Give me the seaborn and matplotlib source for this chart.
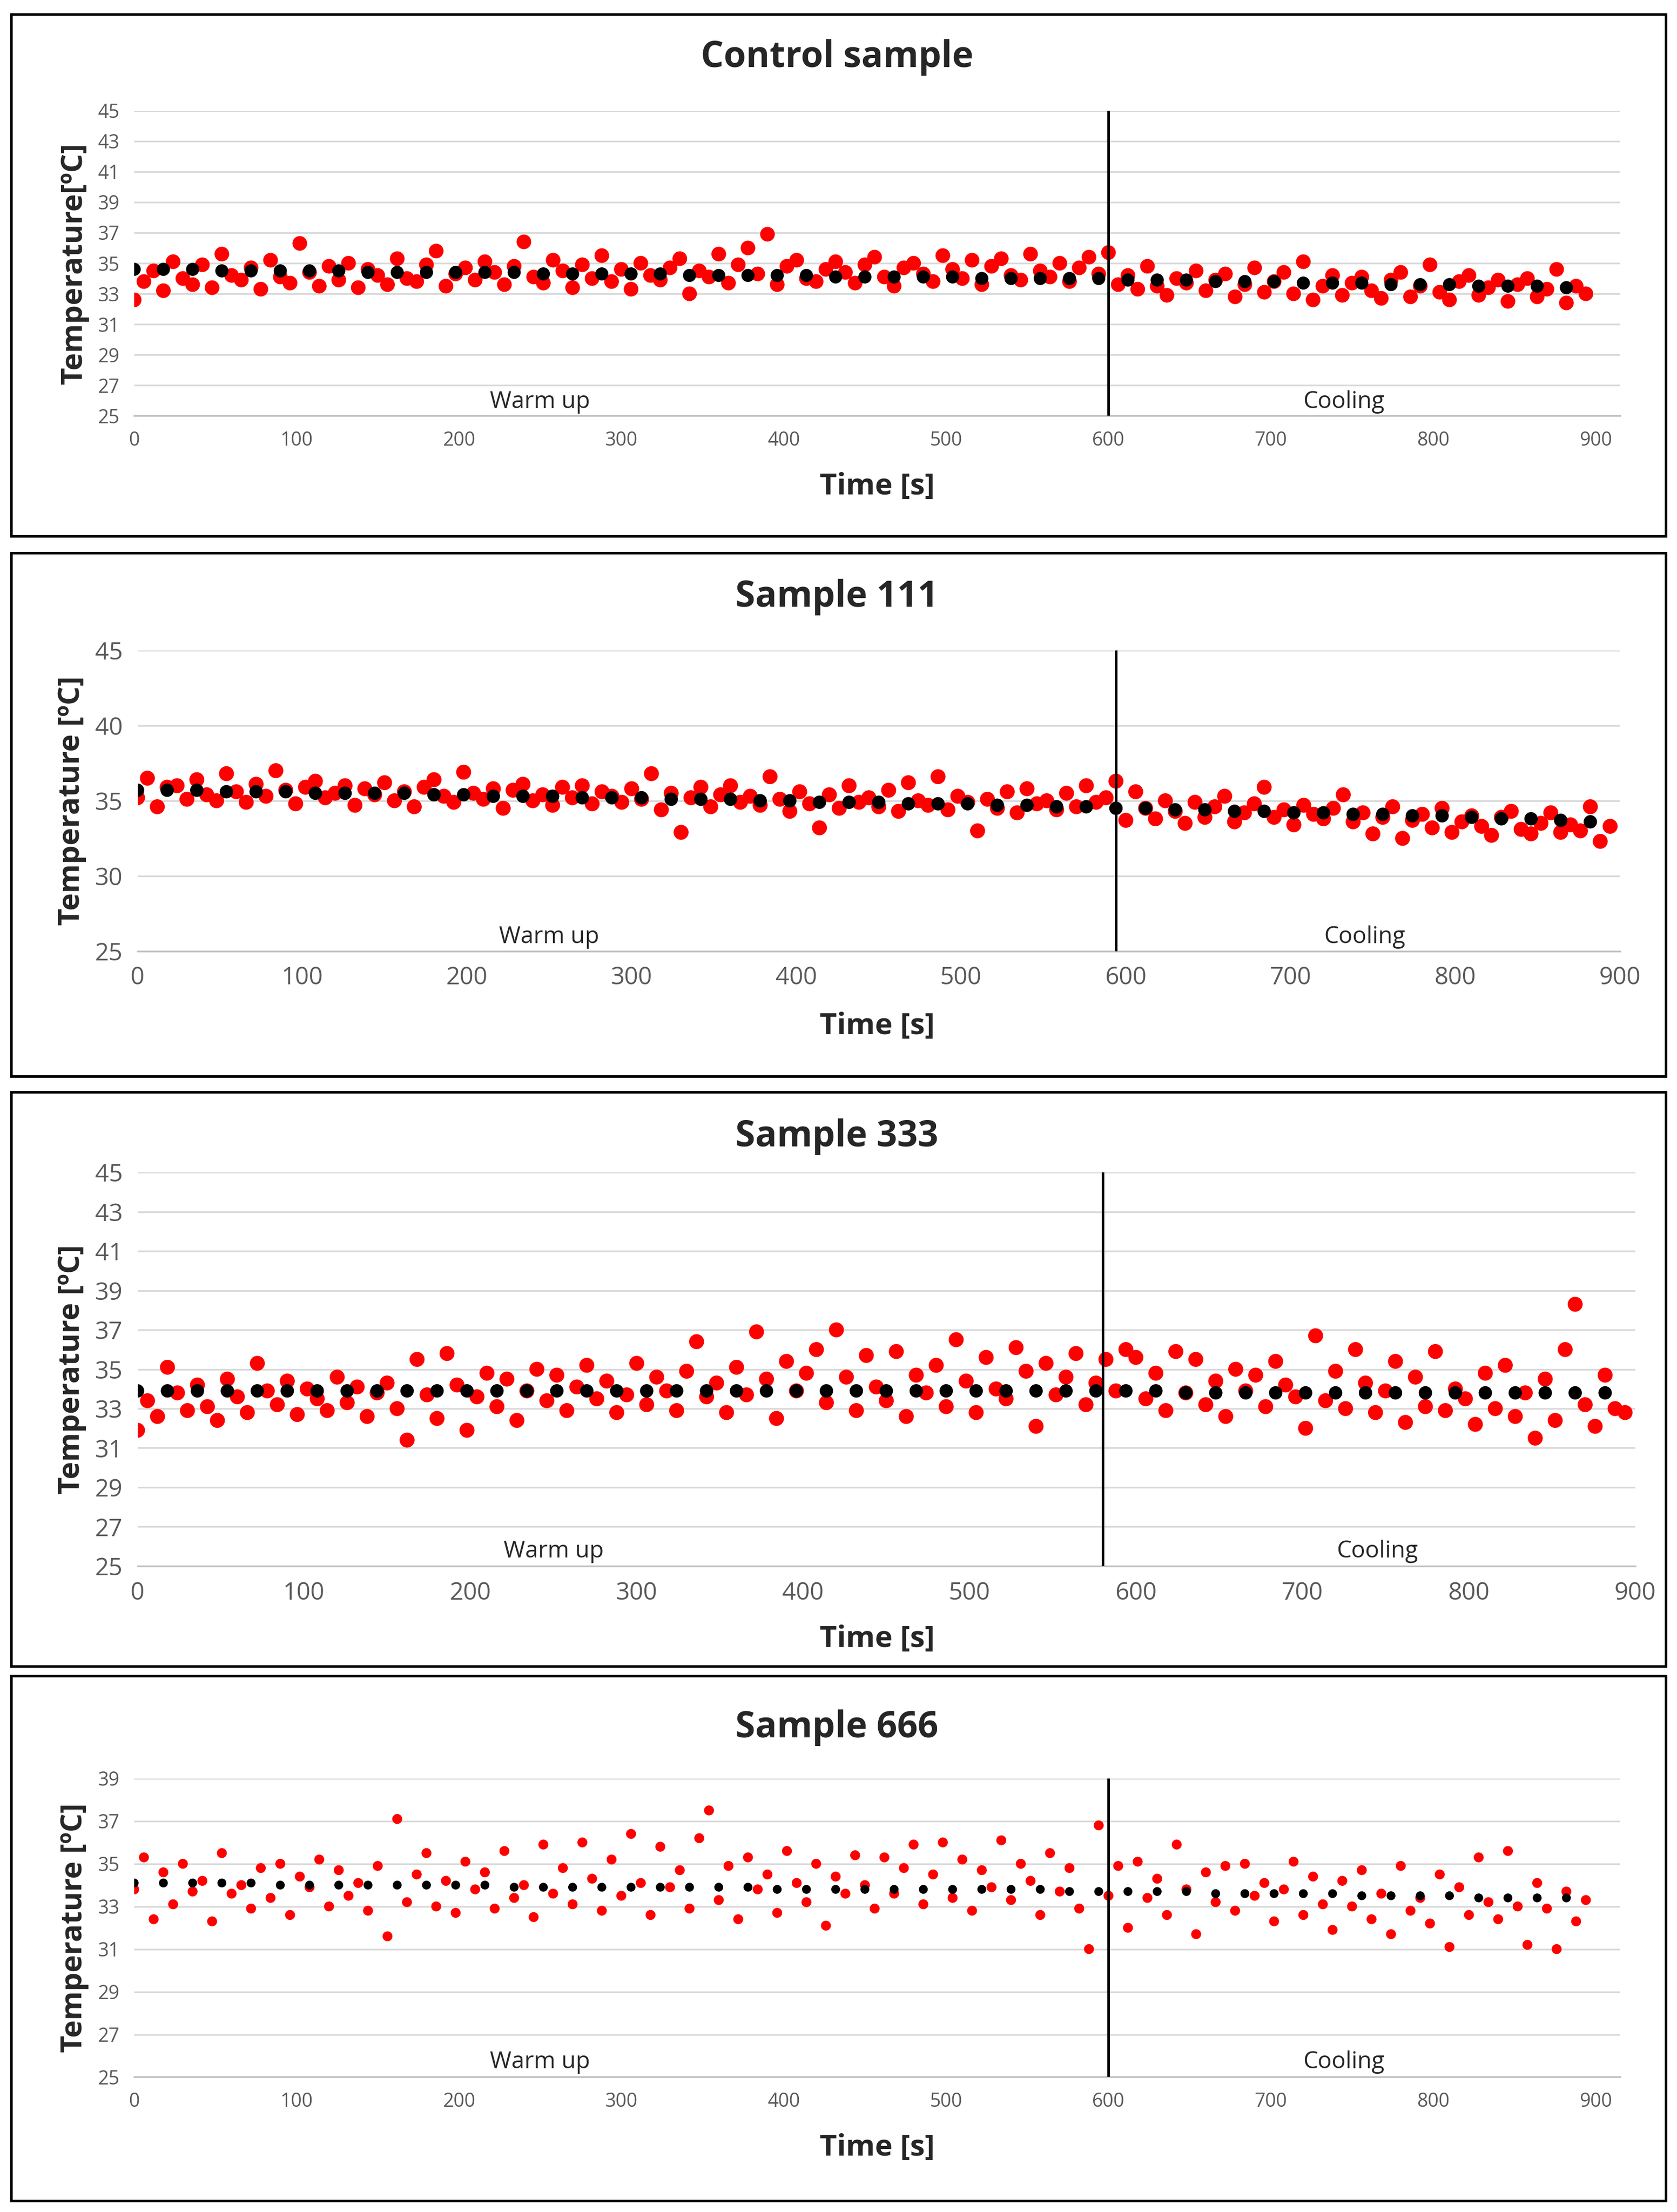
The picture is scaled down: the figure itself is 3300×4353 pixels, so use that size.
import numpy as np
import pandas as pd
import matplotlib
matplotlib.use("Agg")
import matplotlib.pyplot as plt
from matplotlib.patches import Rectangle
import seaborn as sns

# ---- data (every 6 s for red points, 18 s for black trend) ----
control_temp = [32.6,33.8,34.5,33.2,35.1,34.0,33.6,34.9,33.4,35.6,34.2,33.9,34.7,33.3,35.2,34.1,33.7,36.3,34.4,33.5,34.8,33.9,35.0,33.4,34.6,
    34.2,33.6,35.3,34.0,33.8,34.9,35.8,33.5,34.3,34.7,33.9,35.1,34.4,33.6,34.8,36.4,34.1,33.7,35.2,34.5,33.4,34.9,34.0,35.5,33.8,
    34.6,33.3,35.0,34.2,33.9,34.7,35.3,33.0,34.5,34.1,35.6,33.7,34.9,36.0,34.3,36.9,33.6,34.8,35.2,34.0,33.8,34.6,35.1,34.4,33.7,
    34.9,35.4,34.1,33.5,34.7,35.0,34.3,33.8,35.5,34.6,34.0,35.2,33.6,34.8,35.3,34.2,33.9,35.6,34.5,34.1,35.0,33.8,34.7,35.4,34.3,
    35.7,33.6,34.2,33.3,34.8,33.5,32.9,34.0,33.7,34.5,33.2,33.9,34.3,32.8,33.6,34.7,33.1,33.8,34.4,33.0,35.1,32.6,33.5,34.2,32.9,
    33.7,34.1,33.2,32.7,33.9,34.4,32.8,33.5,34.9,33.1,32.6,33.8,34.2,32.9,33.4,33.9,32.5,33.6,34.0,32.8,33.3,34.6,32.4,33.5,33.0]
s111_temp = [35.2,36.5,34.6,35.9,36.0,35.1,36.4,35.4,35.0,36.8,35.6,34.9,36.1,35.3,37.0,35.7,34.8,35.9,36.3,35.2,35.5,36.0,34.7,35.8,35.4,
    36.2,35.0,35.6,34.6,35.9,36.4,35.3,34.9,36.9,35.5,35.1,35.8,34.5,35.7,36.1,35.0,35.4,34.7,35.9,35.2,36.0,34.8,35.6,35.3,34.9,
    35.8,35.1,36.8,34.4,35.5,32.9,35.2,35.9,34.6,35.4,36.0,34.9,35.3,34.7,36.6,35.1,34.3,35.6,34.8,33.2,35.4,34.5,36.0,34.9,35.2,
    34.6,35.7,34.3,36.2,35.0,34.7,36.6,34.4,35.3,34.9,33.0,35.1,34.5,35.6,34.2,35.8,34.8,35.0,34.4,35.5,34.6,36.0,34.9,35.2,36.3,
    33.7,35.6,34.5,33.8,35.0,34.3,33.5,34.9,33.9,34.6,35.3,33.6,34.2,34.8,35.9,33.9,34.4,33.4,34.7,34.1,33.8,34.5,35.4,33.6,34.2,
    32.8,33.9,34.6,32.5,33.7,34.1,33.2,34.5,32.9,33.6,34.0,33.3,32.7,33.9,34.3,33.1,32.8,33.5,34.2,32.9,33.4,33.0,34.6,32.3,33.3]
s333_temp = [31.9,33.4,32.6,35.1,33.8,32.9,34.2,33.1,32.4,34.5,33.6,32.8,35.3,33.9,33.2,34.4,32.7,34.0,33.5,32.9,34.6,33.3,34.1,32.6,33.8,
    34.3,33.0,31.4,35.5,33.7,32.5,35.8,34.2,31.9,33.6,34.8,33.1,34.5,32.4,33.9,35.0,33.4,34.7,32.9,34.1,35.2,33.5,34.4,32.8,33.7,
    35.3,33.2,34.6,33.9,32.9,34.9,36.4,33.6,34.3,32.8,35.1,33.7,36.9,34.5,32.5,35.4,33.9,34.8,36.0,33.3,37.0,34.6,32.9,35.7,34.1,
    33.4,35.9,32.6,34.7,33.8,35.2,33.1,36.5,34.4,32.8,35.6,34.0,33.5,36.1,34.9,32.1,35.3,33.7,34.6,35.8,33.2,34.3,35.5,33.9,36.0,
    35.6,33.5,34.8,32.9,35.9,33.8,35.5,33.2,34.4,32.6,35.0,33.9,34.7,33.1,35.4,34.2,33.6,32.0,36.7,33.4,34.9,33.0,36.0,34.3,32.8,
    33.9,35.4,32.3,34.6,33.1,35.9,32.9,34.0,33.5,32.2,34.8,33.0,35.2,32.6,33.8,31.5,34.5,32.4,36.0,38.3,33.2,32.1,34.7,33.0,32.8]
s666_temp = [33.8,35.3,32.4,34.6,33.1,35.0,33.7,34.2,32.3,35.5,33.6,34.0,32.9,34.8,33.4,35.0,32.6,34.4,33.9,35.2,33.0,34.7,33.5,34.1,32.8,
    34.9,31.6,37.1,33.2,34.5,35.5,33.0,34.2,32.7,35.1,33.8,34.6,32.9,35.6,33.4,34.0,32.5,35.9,33.6,34.8,33.1,36.0,34.3,32.8,35.2,
    33.5,36.4,34.1,32.6,35.8,33.9,34.7,32.9,36.2,37.5,33.3,34.9,32.4,35.3,33.8,34.5,32.7,35.6,34.1,33.2,35.0,32.1,34.4,33.6,35.4,
    34.0,32.9,35.3,33.6,34.8,35.9,33.1,34.5,36.0,33.4,35.2,32.8,34.7,33.9,36.1,33.3,35.0,34.2,32.6,35.5,33.7,34.8,32.9,31.0,36.8,
    33.5,34.9,32.0,35.1,33.4,34.3,32.6,35.9,33.8,31.7,34.6,33.2,34.9,32.8,35.0,33.5,34.1,32.3,33.8,35.1,32.6,34.4,33.1,31.9,34.2,
    33.0,34.7,32.4,33.6,31.7,34.9,32.8,33.4,32.2,34.5,31.1,33.9,32.6,35.3,33.2,32.4,35.6,33.0,31.2,34.1,32.9,31.0,33.7,32.3,33.3]

control_trend = [34.6,34.6,34.6,34.5,34.5,34.5,34.5,34.5,34.4,34.4,34.4,34.4,34.4,34.4,34.3,34.3,34.3,34.3,34.3,34.2,
    34.2,34.2,34.2,34.2,34.1,34.1,34.1,34.1,34.1,34.0,34.0,34.0,34.0,34.0,33.9,33.9,33.9,33.8,33.8,33.8,
    33.7,33.7,33.7,33.6,33.6,33.6,33.5,33.5,33.5,33.4]
s111_trend = [35.7,35.7,35.7,35.6,35.6,35.6,35.5,35.5,35.5,35.5,35.4,35.4,35.3,35.3,35.3,35.2,35.2,35.2,35.1,35.1,
    35.1,35.0,35.0,34.9,34.9,34.9,34.8,34.8,34.8,34.7,34.7,34.6,34.6,34.5,34.5,34.4,34.4,34.3,34.3,34.2,
    34.2,34.1,34.1,34.0,34.0,33.9,33.8,33.8,33.7,33.6]
s333_trend = [33.9,33.9,33.9,33.9,33.9,33.9,33.9,33.9,33.9,33.9,33.9,33.9,33.9,33.9,33.9,33.9,33.9,33.9,33.9,33.9,
    33.9,33.9,33.9,33.9,33.9,33.9,33.9,33.9,33.9,33.9,33.9,33.9,33.9,33.9,33.9,33.8,33.8,33.8,33.8,33.8,
    33.8,33.8,33.8,33.8,33.8,33.8,33.8,33.8,33.8,33.8]
s666_trend = [34.1,34.1,34.1,34.1,34.1,34.0,34.0,34.0,34.0,34.0,34.0,34.0,34.0,33.9,33.9,33.9,33.9,33.9,33.9,33.9,
    33.9,33.9,33.8,33.8,33.8,33.8,33.8,33.8,33.8,33.8,33.8,33.8,33.7,33.7,33.7,33.7,33.7,33.6,33.6,33.6,
    33.6,33.6,33.5,33.5,33.5,33.5,33.4,33.4,33.4,33.4]

titles = ["Control sample", "Sample 111", "Sample 333", "Sample 666"]
ylabels = ["Temperature[ºC]", "Temperature [ºC]", "Temperature [ºC]", "Temperature [ºC]"]
yticks = [list(range(25, 46, 2)), list(range(25, 46, 5)), list(range(25, 46, 2)), list(range(25, 40, 2))]
xticks = list(range(0, 901, 100))

sns.set_style("white")
plt.rcParams["font.family"] = ["Open Sans", "DejaVu Sans"]

fig = plt.figure(figsize=(11, 14.51), dpi=300)

# axes rectangles [left, bottom, width, height] in figure fractions
rects = [[0.080, 0.812, 0.886, 0.138], [0.082, 0.570, 0.884, 0.136],
         [0.082, 0.292, 0.893, 0.178], [0.080, 0.061, 0.886, 0.135]]
boxes = [(10, 380), (392, 763), (774, 1181), (1188, 1560)]
title_y = [0.974, 0.730, 0.486, 0.219]
xlab_y = [0.780, 0.536, 0.259, 0.029]
xmax = [915, 900, 900, 915]
vline_x = [600, 594, 580, 600]
tick_fs = [9, 11.5, 11.5, 9]
dot_s = [48, 50, 50, 22]

temps = [control_temp, s111_temp, s333_temp, s666_temp]
trends = [control_trend, s111_trend, s333_trend, s666_trend]
t_red = np.arange(150) * 6
t_black = np.arange(50) * 18

for i in range(4):
    ax = fig.add_axes(rects[i])
    sns.scatterplot(x=t_red, y=temps[i], ax=ax, color="#ff0000", s=dot_s[i],
                    edgecolor="none", zorder=3)
    sns.scatterplot(x=t_black, y=trends[i], ax=ax, color="black", s=dot_s[i] * 0.8,
                    edgecolor="none", zorder=4)
    ax.set_xlim(0, xmax[i])
    ax.set_ylim(yticks[i][0], yticks[i][-1])
    ax.set_yticks(yticks[i])
    ax.set_xticks(xticks)
    ax.yaxis.grid(True, color="#d9d9d9", lw=0.8)
    ax.set_axisbelow(True)
    for sp in ["top", "right", "left"]:
        ax.spines[sp].set_visible(False)
    ax.spines["bottom"].set_color("#bfbfbf")
    ax.tick_params(axis="both", length=0, pad=7, labelsize=tick_fs[i], colors="#595959")
    ax.set_ylabel(ylabels[i], fontsize=14, fontweight="bold")
    ax.axvline(vline_x[i], color="black", lw=1.2, zorder=5)
    ax.text(250, yticks[i][0] + 0.15, "Warm up", ha="center", va="bottom", fontsize=11, color="#262626")
    ax.text(745, yticks[i][0] + 0.15, "Cooling", ha="center", va="bottom", fontsize=11, color="#262626")
    fig.text(0.499, title_y[i], titles[i], ha="center", va="center", fontsize=17, fontweight="bold")
    fig.text(0.523, xlab_y[i], "Time [s]", ha="center", va="center", fontsize=14, fontweight="bold")
    top, bot = boxes[i]
    fig.patches.append(Rectangle((8 / 1188, 1 - bot / 1568), 1172 / 1188, (bot - top) / 1568,
                                 transform=fig.transFigure, fill=False, edgecolor="black", lw=1.2))

fig.savefig("out.png", dpi=300, facecolor="white")
